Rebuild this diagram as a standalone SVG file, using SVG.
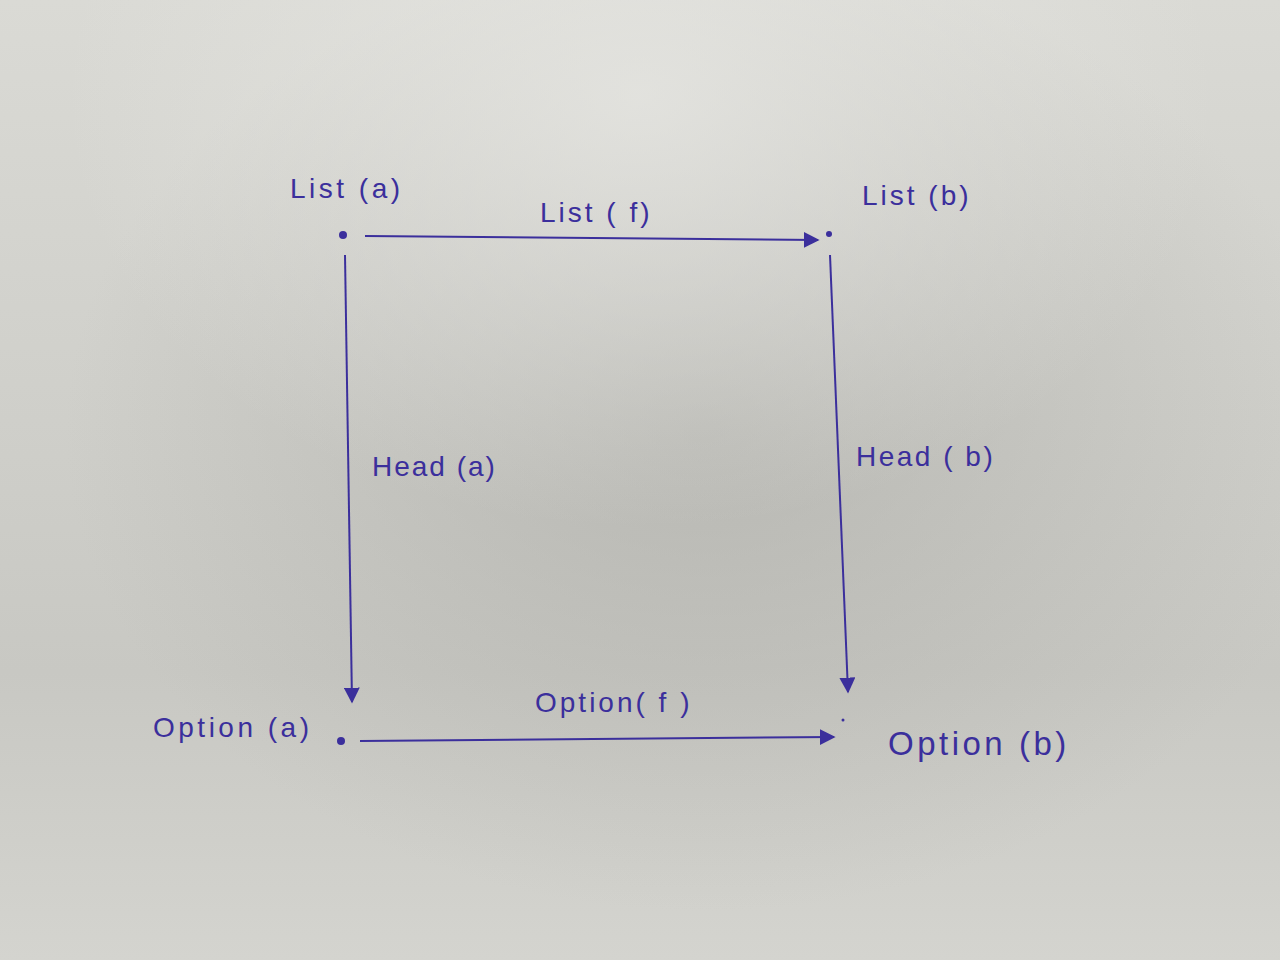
<svg xmlns="http://www.w3.org/2000/svg" width="1280" height="960" viewBox="0 0 1280 960">
<defs>
<linearGradient id="bg" x1="0" y1="0" x2="0" y2="1">
<stop offset="0" stop-color="#dadad5"/>
<stop offset="0.4" stop-color="#d0d0cb"/>
<stop offset="0.7" stop-color="#c8c8c3"/>
<stop offset="1" stop-color="#d4d4cf"/>
</linearGradient>
<radialGradient id="shade" cx="0.55" cy="0.45" r="0.5">
<stop offset="0" stop-color="#a8a8a3" stop-opacity="0.55"/>
<stop offset="1" stop-color="#a8a8a3" stop-opacity="0"/>
</radialGradient>
<radialGradient id="light" cx="0.5" cy="0.1" r="0.45">
<stop offset="0" stop-color="#e6e6e2" stop-opacity="0.8"/>
<stop offset="1" stop-color="#e6e6e2" stop-opacity="0"/>
</radialGradient>
<marker id="arr" viewBox="0 0 10 10" refX="9" refY="5" markerWidth="16" markerHeight="16" markerUnits="userSpaceOnUse" orient="auto">
<path d="M0,0 L10,5 L0,10 Z" fill="#3b2f9c"/>
</marker>
<style>
.lbl{font-family:"Liberation Sans",Arial,sans-serif;fill:#3b2f9c;font-size:28px;letter-spacing:2px}
.edge{stroke:#3b2f9c;stroke-width:2;fill:none;marker-end:url(#arr)}
.dot{fill:#3b2f9c}
</style>
</defs>
<rect width="1280" height="960" fill="url(#bg)"/>
<rect width="1280" height="960" fill="url(#shade)"/>
<rect width="1280" height="960" fill="url(#light)"/>
<g id="connectors">
<line class="edge" x1="365" y1="236" x2="818" y2="240"/>
<line class="edge" x1="345" y1="255" x2="352" y2="702"/>
<line class="edge" x1="830" y1="255" x2="848" y2="692"/>
<line class="edge" x1="360" y1="741" x2="834" y2="737"/>
</g>
<g id="edge-labels">
<text class="lbl" x="540" y="222" style="letter-spacing:3px">List ( f)</text>
<text class="lbl" x="372" y="476">Head (a)</text>
<text class="lbl" x="856" y="466" style="letter-spacing:2.5px">Head ( b)</text>
<text class="lbl" x="535" y="712" style="letter-spacing:3px">Option( f )</text>
</g>
<g id="node-list-a">
<circle class="dot" cx="343" cy="235" r="4"/>
<text class="lbl" x="290" y="198" style="letter-spacing:3.5px">List (a)</text>
</g>
<g id="node-list-b">
<circle class="dot" cx="829" cy="234" r="3"/>
<text class="lbl" x="862" y="205" style="letter-spacing:3px">List (b)</text>
</g>
<g id="node-option-a">
<circle class="dot" cx="341" cy="741" r="4"/>
<text class="lbl" x="153" y="737" style="letter-spacing:3.5px">Option (a)</text>
</g>
<g id="node-option-b">
<circle class="dot" cx="843" cy="720" r="1.5"/>
<text class="lbl" x="888" y="755" style="font-size:33px;letter-spacing:3.5px">Option (b)</text>
</g>
</svg>
